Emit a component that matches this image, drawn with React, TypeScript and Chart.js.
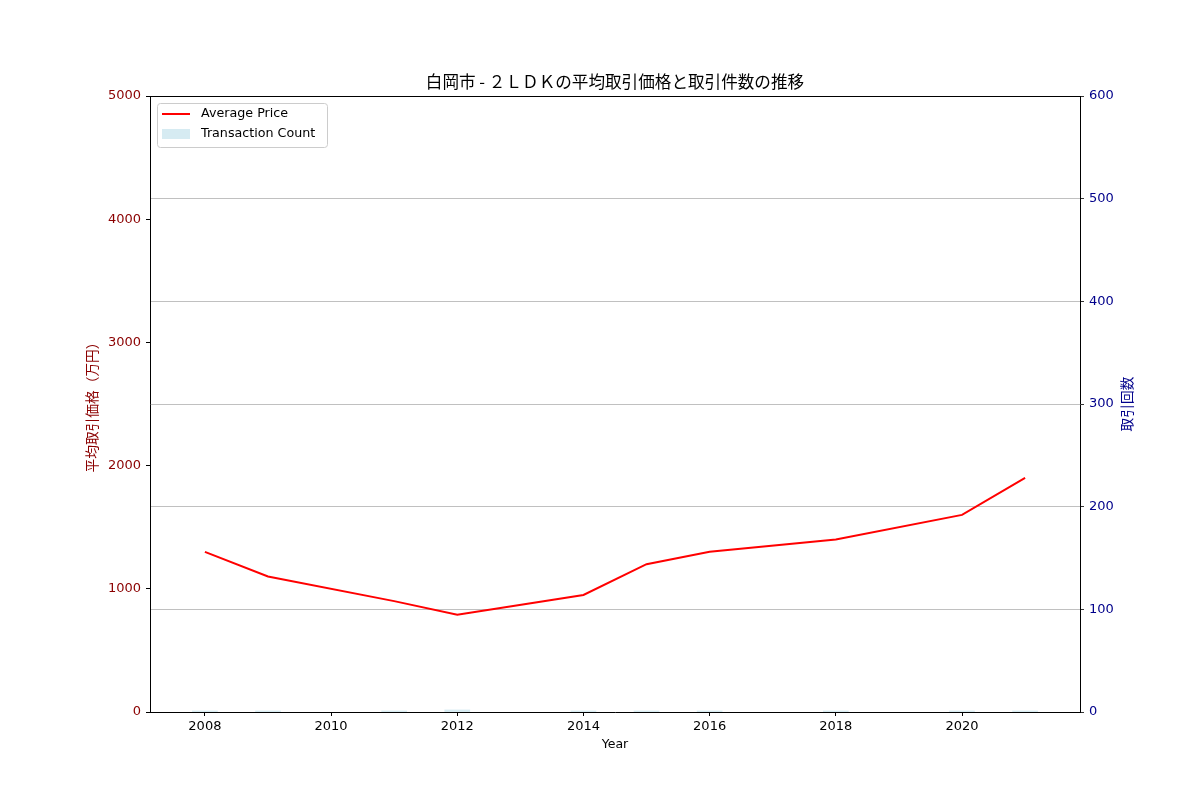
import React, { useEffect, useRef } from "react";
import { Chart, registerables } from "chart.js";

Chart.register(...registerables);

const years = [2008, 2009, 2011, 2012, 2014, 2015, 2016, 2018, 2020, 2021];
const avgPrice = [1300, 1100, 900, 790, 950, 1200, 1300, 1400, 1600, 1900];
const txCount = [1, 1, 1, 2, 1, 1, 1, 1, 1, 1];
const xTicks = [2008, 2010, 2012, 2014, 2016, 2018, 2020];

const TITLE = "白岡市 - ２ＬＤＫの平均取引価格と取引件数の推移";
const LEFT_TITLE = "平均取引価格（万円）";
const RIGHT_TITLE = "取引回数";
const X_TITLE = "Year";
const JP_FONT = "'Noto Sans CJK JP', 'DejaVu Sans', sans-serif";
const LAT_FONT = "'DejaVu Sans', 'Noto Sans CJK JP', sans-serif";
const DARKRED = "#8b0000";
const NAVY = "#00008b";
const BAR_COLOR = "rgba(173,216,230,0.5)";

const decorPlugin = {
  id: "decor",
  afterDraw(chart: any) {
    const { ctx, chartArea } = chart;
    const { left, right, top, bottom } = chartArea;
    ctx.save();
    ctx.strokeStyle = "#000";
    ctx.lineWidth = 1;
    ctx.beginPath();
    ctx.moveTo(left, top + 0.5);
    ctx.lineTo(right, top + 0.5);
    ctx.stroke();
    ctx.fillStyle = "#000";
    ctx.font = `16.6px ${JP_FONT}`;
    ctx.textAlign = "center";
    ctx.textBaseline = "middle";
    ctx.fillText(TITLE, (left + right) / 2, 82);
    ctx.font = `12.5px ${LAT_FONT}`;
    ctx.fillText(X_TITLE, (left + right) / 2, 745);
    const midY = (top + bottom) / 2;
    ctx.font = `13.7px ${JP_FONT}`;
    ctx.save();
    ctx.translate(92, midY);
    ctx.rotate(-Math.PI / 2);
    ctx.fillStyle = DARKRED;
    ctx.fillText(LEFT_TITLE, 0, 0);
    ctx.restore();
    ctx.save();
    ctx.translate(1127, midY);
    ctx.rotate(-Math.PI / 2);
    ctx.fillStyle = NAVY;
    ctx.fillText(RIGHT_TITLE, 0, 0);
    ctx.restore();
    const lx = left + 7, ly = top + 7, lw = 170, lh = 44;
    ctx.fillStyle = "rgba(255,255,255,0.8)";
    ctx.strokeStyle = "#cccccc";
    ctx.lineWidth = 1;
    ctx.beginPath();
    ctx.roundRect(lx + 0.5, ly + 0.5, lw, lh, 3);
    ctx.fill();
    ctx.stroke();
    const ds = chart.data.datasets;
    ctx.font = `12.7px ${LAT_FONT}`;
    ctx.textAlign = "left";
    ctx.strokeStyle = "red";
    ctx.lineWidth = 2;
    ctx.beginPath();
    ctx.moveTo(lx + 5, ly + 11);
    ctx.lineTo(lx + 33, ly + 11);
    ctx.stroke();
    ctx.fillStyle = "#000";
    ctx.fillText(ds[0].label, lx + 44, ly + 11);
    ctx.fillStyle = BAR_COLOR;
    ctx.fillRect(lx + 5, ly + 26, 28, 10);
    ctx.fillStyle = "#000";
    ctx.fillText(ds[1].label, lx + 44, ly + 31);
    ctx.restore();
  },
};

export default function App() {
  const ref = useRef<HTMLCanvasElement | null>(null);
  useEffect(() => {
    if (!ref.current) return;
    const chart = new Chart(ref.current, {
      type: "line",
      data: {
        datasets: [
          {
            type: "line",
            label: "Average Price",
            data: years.map((y, i) => ({ x: y, y: avgPrice[i] })),
            borderColor: "red",
            backgroundColor: "red",
            borderWidth: 2,
            pointRadius: 0,
            tension: 0,
            yAxisID: "y",
            order: 1,
          },
          {
            type: "bar",
            label: "Transaction Count",
            data: years.map((y, i) => ({ x: y, y: txCount[i] })),
            backgroundColor: BAR_COLOR,
            borderWidth: 0,
            barThickness: 25,
            yAxisID: "y1",
            order: 2,
          } as any,
        ],
      },
      options: {
        animation: false,
        responsive: false,
        layout: { padding: { top: 96, left: 0, right: 0, bottom: 0 } },
        plugins: {
          legend: { display: false },
          title: { display: false },
          tooltip: { enabled: false },
        },
        scales: {
          x: {
            type: "linear",
            min: 2007.13,
            max: 2021.87,
            offset: false,
            afterBuildTicks: (s: any) => {
              s.ticks = xTicks.map((v) => ({ value: v }));
            },
            afterFit: (s: any) => {
              s.height = 88;
            },
            ticks: {
              color: "#000",
              font: { family: LAT_FONT, size: 13 },
              padding: 3,
              autoSkip: false,
              callback: (v: any) => String(v),
              maxRotation: 0,
            },
            grid: {
              offset: false,
              drawOnChartArea: false,
              drawTicks: true,
              tickLength: 4,
              tickColor: "#000",
            },
            border: { display: true, color: "#000", width: 1 },
          },
          y: {
            position: "left",
            min: 0,
            max: 5000,
            afterFit: (s: any) => {
              s.width = 150;
            },
            ticks: {
              stepSize: 1000,
              color: DARKRED,
              font: { family: LAT_FONT, size: 13 },
              padding: 5,
              callback: (v: any) => String(v),
            },
            grid: {
              drawOnChartArea: false,
              drawTicks: true,
              tickLength: 4,
              tickColor: "#000",
            },
            border: { display: true, color: "#000", width: 1 },
          },
          y1: {
            position: "right",
            min: 0,
            max: 600,
            afterFit: (s: any) => {
              s.width = 120;
            },
            ticks: {
              stepSize: 100,
              color: NAVY,
              font: { family: LAT_FONT, size: 13 },
              padding: 5,
              callback: (v: any) => String(v),
            },
            grid: {
              drawOnChartArea: true,
              color: "#b0b0b0",
              lineWidth: 0.8,
              drawTicks: true,
              tickLength: 4,
              tickColor: "#000",
            },
            border: { display: true, color: "#000", width: 1 },
          },
        },
      },
      plugins: [decorPlugin],
    } as any);
    return () => chart.destroy();
  }, []);
  return (
    <div style={{ position: "absolute", left: 0, top: 0, width: 1200, height: 800, background: "#fff" }}>
      <canvas ref={ref} width={1200} height={800} style={{ width: 1200, height: 800, display: "block" }} />
    </div>
  );
}
